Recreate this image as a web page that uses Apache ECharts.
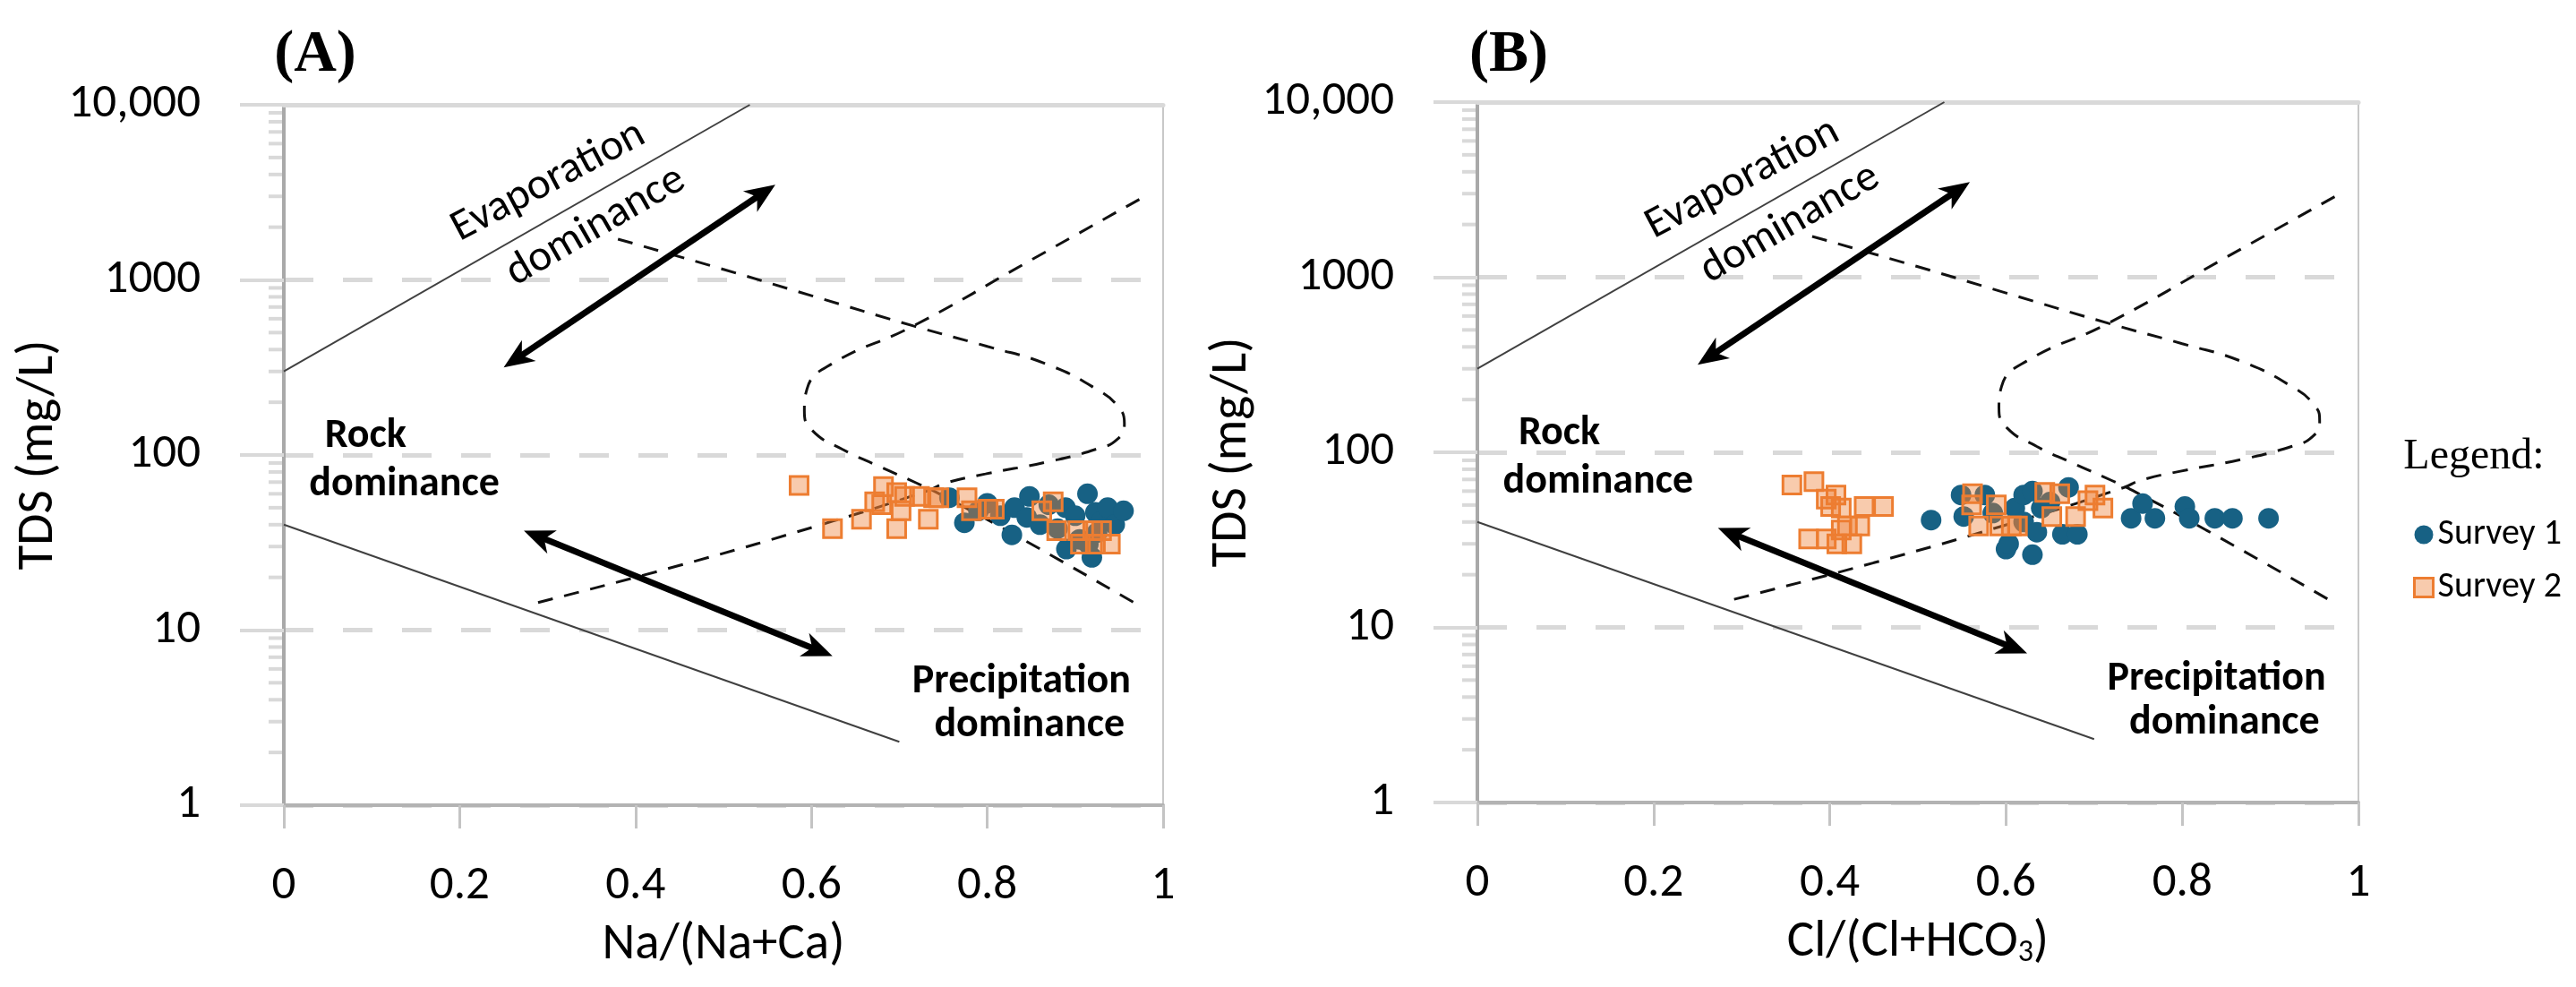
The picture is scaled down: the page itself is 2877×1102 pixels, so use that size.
<!DOCTYPE html>
<html><head><meta charset="utf-8">
<script src="https://cdn.jsdelivr.net/npm/echarts@6/dist/echarts.min.js"></script>
<style>html,body{margin:0;padding:0;background:#fff}#c{width:2877px;height:1102px}</style>
</head><body><div id="c"></div>
<script>
// ---------------- data ----------------
const xTickValues = [0, 0.2, 0.4, 0.6, 0.8, 1];
const yTickLabels = ['1', '10', '100', '1000', '10,000'];
const minorTickValues = [2,3,4,5,6,7,8,9, 20,30,40,50,60,70,80,90, 200,300,400,500,600,700,800,900, 2000,3000,4000,5000,6000,7000,8000,9000];

// Panel A: Na/(Na+Ca) vs TDS
const survey1A = [[0.757,57],[0.774,41],[0.79,48],[0.80,53],[0.815,45],[0.828,35],[0.831,50],[0.848,58],[0.845,44],[0.86,40],[0.87,52],[0.889,50],[0.89,29],[0.90,45],[0.905,33],[0.914,60],[0.919,26],[0.923,47],[0.925,36],[0.93,42],[0.937,50],[0.945,40],[0.955,48],[0.88,38],[0.915,31]];
const survey2A = [[0.586,67],[0.624,38],[0.657,43],[0.682,66],[0.672,54],[0.680,52],[0.697,61],[0.702,48],[0.697,38],[0.706,58],[0.723,58],[0.733,43],[0.739,57],[0.745,57],[0.777,57],[0.782,48],[0.801,49],[0.808,49],[0.862,48],[0.875,54],[0.879,37],[0.903,37],[0.930,37],[0.906,31],[0.923,31],[0.940,31],[0.920,37]];

// Panel B: Cl/(Cl+HCO3) vs TDS
const survey1B = [[0.515,41],[0.549,57],[0.552,43],[0.576,57],[0.585,45],[0.600,28],[0.603,30],[0.61,48],[0.62,57],[0.62,40],[0.63,26],[0.63,60],[0.635,35],[0.64,48],[0.65,52],[0.664,34],[0.671,63],[0.681,34],[0.742,42],[0.755,51],[0.769,42],[0.803,49],[0.808,42],[0.837,42],[0.857,42],[0.898,42]];
const survey2B = [[0.357,65],[0.382,68],[0.396,54],[0.407,57],[0.401,49],[0.413,48],[0.439,49],[0.461,49],[0.42,38],[0.434,38],[0.376,32],[0.396,32],[0.408,30],[0.425,30],[0.413,36],[0.562,58],[0.561,50],[0.589,50],[0.569,38],[0.593,38],[0.606,38],[0.613,38],[0.644,59],[0.661,58],[0.652,43],[0.679,43],[0.693,53],[0.701,57],[0.710,48]];

// Gibbs boundary lines (same template in both panels)
const evaporationLine = [[0, 300], [0.53, 10000]];
const rockLine = [[0, 40], [0.70, 2.3]];
const gibbsCurve1 = [[0.38,1710],[0.50,1148],[0.60,813],[0.716,546],[0.80,417],[0.867,331],[0.924,238],[0.95,186],[0.956,151],[0.948,123],[0.924,108],[0.867,91],[0.798,78],[0.752,69],[0.734,63],[0.625,42],[0.45,23.4],[0.28,14]];
const gibbsCurve2 = [[0.973,2884],[0.85,1300],[0.716,546],[0.623,331],[0.595,238],[0.592,178],[0.601,138],[0.635,108],[0.675,87],[0.72,69],[0.748,59],[0.827,36],[0.976,13.5]];
const arrowSegments = [[0.25,316,0.559,3500],[0.273,37,0.624,7.1]];

const seriesNames = ['Survey 1', 'Survey 2'];
const xAxisNames = ['{n|Na/(Na+Ca)}', '{n|Cl/(Cl+HCO}{s|3}{n|)}'];
const yAxisName = 'TDS (mg/L)';
const panelTitles = ['(A)', '(B)'];

// annotation text (layout, placed in data coordinates)
const annotations = [
  {text:'Evaporation', x:0.301, y:3630, rot:28, bold:false},
  {text:'dominance',   x:0.355, y:2014, rot:30, bold:false},
  {text:'Rock',        x:0.093, y:128,  rot:0, bold:true},
  {text:'dominance',   x:0.137, y:67.5, rot:0, bold:true},
  {text:'Precipitation', x:0.839, y:5.08, rot:0, bold:true},
  {text:'dominance',   x:0.848, y:2.85, rot:0, bold:true}
];

// ---------------- chart ----------------
const FONT = 'Carlito, Lato, "Open Sans", sans-serif';
const SERIF = '"Liberation Serif", "Times New Roman", serif';
const chart = echarts.init(document.getElementById('c'), null, {renderer: 'canvas'});

const grids = [
  {left: 317, top: 117, width: 982, height: 782},
  {left: 1650, top: 114, width: 984, height: 782}
];
const yNameGap = [226, 212];

const xAxes = [], yAxes = [], series = [];
grids.forEach((g, p) => {
  xAxes.push({
    type: 'value', gridIndex: p, min: 0, max: 1, interval: 0.2,
    axisLine: {onZero: false, lineStyle: {color: '#b3b3b3', width: 4}},
    axisTick: {show: true, length: 26, lineStyle: {color: '#c4c4c4', width: 3}},
    axisLabel: {margin: 64, fontSize: 53, color: '#000', fontFamily: FONT,
      formatter: v => String(xTickValues.find(t => Math.abs(t - v) < 1e-9))},
    splitLine: {show: false},
    name: xAxisNames[p], nameLocation: 'middle', nameGap: 128,
    nameTextStyle: {fontSize: 57, color: '#000', fontFamily: FONT,
      rich: {n: {fontSize: 57, color: '#000', fontFamily: FONT},
             s: {fontSize: 34, lineHeight: 20, verticalAlign: 'bottom', color: '#000', fontFamily: FONT}}}
  });
  xAxes.push({
    type: 'value', gridIndex: p, position: 'top', min: 0, max: 1,
    axisLine: {show: true, onZero: false, lineStyle: {color: '#d9d9d9', width: 5}},
    axisTick: {show: false}, axisLabel: {show: false}, splitLine: {show: false}
  });
  yAxes.push({
    type: 'log', logBase: 10, gridIndex: p, min: 1, max: 10000,
    axisLine: {show: true, onZero: false, lineStyle: {color: '#a9a9a9', width: 4}},
    axisTick: {show: true, length: 49, lineStyle: {color: '#d9d9d9', width: 4}},
    axisLabel: {margin: 93, fontSize: 53, color: '#000', fontFamily: FONT,
      formatter: v => yTickLabels[Math.round(Math.log10(v))]},
    splitLine: {show: true, lineStyle: {color: '#d9d9d9', width: 5, type: [33, 33]}},
    name: yAxisName, nameLocation: 'middle', nameGap: yNameGap[p],
    nameTextStyle: {fontSize: 57, color: '#000', fontFamily: FONT}
  });
  yAxes.push({
    type: 'value', gridIndex: p, position: 'right', min: 0, max: 1,
    axisLine: {show: true, onZero: false, lineStyle: {color: '#c8c8c8', width: 2}},
    axisTick: {show: false}, axisLabel: {show: false}, splitLine: {show: false}
  });

  const xi = p * 2, yi = p * 2;
  const base = {xAxisIndex: xi, yAxisIndex: yi, silent: true, animation: false};
  series.push(Object.assign({}, base, {type: 'line', data: evaporationLine, symbol: 'none', lineStyle: {color: '#404040', width: 2}, z: 2}));
  series.push(Object.assign({}, base, {type: 'line', data: rockLine, symbol: 'none', lineStyle: {color: '#404040', width: 2}, z: 2}));
  [gibbsCurve1, gibbsCurve2].forEach(c => {
    series.push(Object.assign({}, base, {type: 'line', data: c, symbol: 'none', smooth: 0.5,
      lineStyle: {color: '#111', width: 3, type: [17, 13]}, z: 2}));
  });
  // minor ticks on log axis
  series.push(Object.assign({}, base, {
    type: 'custom', clip: false, z: 1,
    data: minorTickValues.map(v => [0, v]),
    renderItem: (params, api) => {
      const pt = api.coord([0, api.value(1)]);
      return {type: 'line', shape: {x1: pt[0] - 17, y1: pt[1], x2: pt[0] - 2, y2: pt[1]},
        style: {stroke: '#d9d9d9', lineWidth: 4}};
    }
  }));
  // double-headed arrows
  series.push(Object.assign({}, base, {
    type: 'custom', clip: false, z: 3,
    data: arrowSegments,
    encode: {x: [0, 2], y: [1, 3]},
    renderItem: (params, api) => {
      const a = api.coord([api.value(0), api.value(1)]);
      const b = api.coord([api.value(2), api.value(3)]);
      const dx = b[0] - a[0], dy = b[1] - a[1], len = Math.hypot(dx, dy);
      const ux = dx / len, uy = dy / len, nx = -uy, ny = ux;
      const L = 34, W = 14;
      const head = (t, s) => [[t[0], t[1]],
        [t[0] - s * ux * L + nx * W, t[1] - s * uy * L + ny * W],
        [t[0] - s * ux * L * 0.72, t[1] - s * uy * L * 0.72],
        [t[0] - s * ux * L - nx * W, t[1] - s * uy * L - ny * W]];
      return {type: 'group', children: [
        {type: 'line', shape: {x1: a[0] + ux * L * 0.6, y1: a[1] + uy * L * 0.6, x2: b[0] - ux * L * 0.6, y2: b[1] - uy * L * 0.6},
          style: {stroke: '#000', lineWidth: 7}},
        {type: 'polygon', shape: {points: head(b, 1)}, style: {fill: '#000'}},
        {type: 'polygon', shape: {points: head(a, -1)}, style: {fill: '#000'}}
      ]};
    }
  }));
  series.push(Object.assign({}, base, {
    type: 'scatter', name: seriesNames[0], data: p === 0 ? survey1A : survey1B,
    symbol: 'circle', symbolSize: 23, itemStyle: {color: '#176184', opacity: 1}, z: 4
  }));
  series.push(Object.assign({}, base, {
    type: 'scatter', name: seriesNames[1], data: p === 0 ? survey2A : survey2B,
    symbol: 'rect', symbolSize: 20,
    itemStyle: {color: 'rgba(237,125,49,0.4)', borderColor: '#ED7D31', borderWidth: 3, opacity: 1}, z: 5
  }));
});

chart.setOption({
  animation: false,
  backgroundColor: '#fff',
  grid: grids,
  xAxis: xAxes,
  yAxis: yAxes,
  legend: {
    orient: 'vertical', left: 2690, top: 572, itemWidth: 21, itemHeight: 21, itemGap: 19, itemTextGap: 8,
    selectedMode: false,
    data: [{name: seriesNames[0], icon: 'circle'}, {name: seriesNames[1], icon: 'rect',
      itemStyle: {color: 'rgba(237,125,49,0.4)', borderColor: '#ED7D31', borderWidth: 3}}],
    textStyle: {fontSize: 40, color: '#000', fontFamily: FONT}
  },
  series: series
});

// annotation texts and titles positioned through the axes
const graphics = [];
[0, 1].forEach(p => {
  const finder = {xAxisIndex: p * 2, yAxisIndex: p * 2};
  annotations.forEach(a => {
    const pt = chart.convertToPixel(finder, [a.x, a.y]);
    graphics.push({type: 'text', x: pt[0], y: pt[1], rotation: a.rot * Math.PI / 180, silent: true,
      style: {text: a.text, fontSize: a.bold ? 46 : 49, fontWeight: a.bold ? 'bold' : 'normal',
        fontFamily: FONT, fill: '#000', align: 'center', verticalAlign: 'middle'}});
  });
  graphics.push({type: 'text', x: grids[p].left + 35, y: 62, silent: true,
    style: {text: panelTitles[p], fontSize: 66, fontWeight: 'bold', fontFamily: SERIF, fill: '#000', align: 'center', verticalAlign: 'middle'}});
});
graphics.push({type: 'text', x: 2763, y: 510, silent: true,
  style: {text: 'Legend:', fontSize: 48, fontFamily: SERIF, fill: '#000', align: 'center', verticalAlign: 'middle'}});
chart.setOption({graphic: graphics});
</script>
</body></html>
